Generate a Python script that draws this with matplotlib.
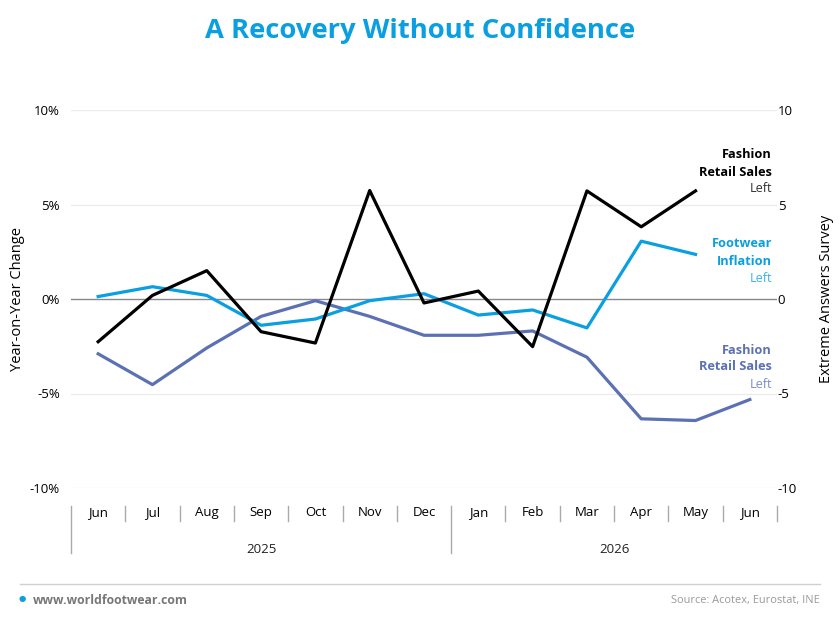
import matplotlib.pyplot as plt
import matplotlib.transforms as mtransforms

plt.rcParams['font.family'] = ['Open Sans', 'DejaVu Sans']

months = ["Jun", "Jul", "Aug", "Sep", "Oct", "Nov", "Dec",
          "Jan", "Feb", "Mar", "Apr", "May", "Jun"]
years = ["2025", "2026"]
year_spans = [(0, 6), (7, 12)]

# Fashion retail sales (black), Jun 2025 - May 2026
fashion_black = [-2.26, 0.19, 1.5, -1.73, -2.33, 5.74, -0.21,
                 0.42, -2.52, 5.72, 3.82, 5.72]
# Footwear inflation, Jun 2025 - May 2026
footwear_infl = [0.13, 0.65, 0.19, -1.39, -1.06, -0.09, 0.28,
                 -0.85, -0.58, -1.53, 3.06, 2.36]
# Fashion retail sales (purple), Jun 2025 - Jun 2026
fashion_purple = [-2.9, -4.53, -2.59, -0.92, -0.09, -0.92, -1.92,
                  -1.92, -1.69, -3.08, -6.34, -6.43, -5.32]

left_ticks = [-10, -5, 0, 5, 10]
left_labels = ["-10%", "-5%", "0%", "5%", "10%"]
right_labels = ["-10", "-5", "0", "5", "10"]

BLACK = "#000000"
CYAN = "#0a9fe0"
PURPLE = "#5b71b4"

fig = plt.figure(figsize=(8.4, 6.24), dpi=100)
W, H = 840, 624
ax = fig.add_axes([71 / W, 1 - 488 / H, (777 - 71) / W, (488 - 110) / H])

ax.set_xlim(-0.5, 12.5)
ax.set_ylim(-10, 10)

for y in [-10, -5, 5, 10]:
    ax.axhline(y, color="#ececec", lw=1, zorder=0)
ax.axhline(0, color="#888888", lw=1, zorder=1)

ax.plot(range(len(fashion_purple)), fashion_purple, color=PURPLE, lw=2.3, zorder=3)
ax.plot(range(len(footwear_infl)), footwear_infl, color=CYAN, lw=2.3, zorder=3)
ax.plot(range(len(fashion_black)), fashion_black, color=BLACK, lw=2.3, zorder=4)

for s in ax.spines.values():
    s.set_visible(False)

ax.set_yticks(left_ticks)
ax.set_yticklabels(left_labels)
ax.tick_params(axis="y", length=0, pad=8, labelsize=9.5)
ax.set_ylabel("Year-on-Year Change", fontsize=10.5, labelpad=3.5)

ax2 = ax.twinx()
ax2.set_ylim(-10, 10)
ax2.set_yticks(left_ticks)
ax2.set_yticklabels(right_labels)
ax2.tick_params(axis="y", length=0, pad=0.5, labelsize=9.5)
ax2.set_ylabel("Extreme Answers Survey", fontsize=10.5, labelpad=16)
for s in ax2.spines.values():
    s.set_visible(False)

# category axis: month labels, separators, years
ax.set_xticks(range(len(months)))
ax.set_xticklabels(months, fontsize=9.5)
ax.tick_params(axis="x", length=0, pad=13)
trans = mtransforms.blended_transform_factory(ax.transData, ax.transAxes)
for i in range(len(months) + 1):
    x = i - 0.5
    if x in (-0.5, 6.5):
        ax.plot([x, x], [-0.048, -0.172], transform=trans, color="#aaaaaa",
                lw=1, clip_on=False)
    else:
        ax.plot([x, x], [-0.048, -0.086], transform=trans, color="#aaaaaa",
                lw=1, clip_on=False)
for yr, (a, b) in zip(years, year_spans):
    ax.text((a + b) / 2, -0.162, yr, transform=trans, ha="center", va="center",
            fontsize=9.5, color="#222222")

# series labels at the right
lab_x = 772 / W
def series_label(y0, l1, l2, color, sub_color):
    fig.text(lab_x, 1 - y0 / H, l1, ha="right", va="center", fontsize=9.2,
             fontweight="bold", color=color)
    fig.text(lab_x, 1 - (y0 + 17) / H, l2, ha="right", va="center", fontsize=9.2,
             fontweight="bold", color=color)
    fig.text(lab_x, 1 - (y0 + 34) / H, "Left", ha="right", va="center",
             fontsize=9.2, color=sub_color)

series_label(155, "Fashion", "Retail Sales", BLACK, "#333333")
series_label(244, "Footwear", "Inflation", CYAN, "#3fb2e8")
series_label(350, "Fashion", "Retail Sales", PURPLE, "#7b8ec6")

fig.text(0.5, 1 - 31 / H, "A Recovery Without Confidence", ha="center",
         va="center", fontsize=19.7, fontweight="bold", color=CYAN)

# footer
fig.add_artist(plt.Line2D([20 / W, 820 / W], [1 - 584 / H, 1 - 584 / H],
                          color="#d0d0d0", lw=1))
fig.text(22 / W, 1 - 600 / H, "\u25cf", ha="center", va="center", fontsize=6,
         color=CYAN)
fig.text(33 / W, 1 - 600 / H, "www.worldfootwear.com", ha="left", va="center",
         fontsize=8.8, fontweight="bold", color="#777777")
fig.text(820 / W, 1 - 600 / H, "Source: Acotex, Eurostat, INE", ha="right",
         va="center", fontsize=7.9, color="#999999")

fig.savefig("out.png", dpi=100)
